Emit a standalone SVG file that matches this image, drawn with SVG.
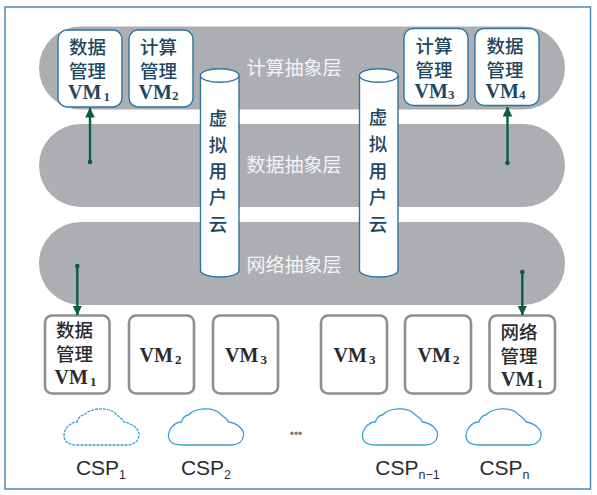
<svg xmlns="http://www.w3.org/2000/svg" width="597" height="495" viewBox="0 0 597 495">
<style>
.band{fill:#adaeb1}
.vm{fill:#fff;stroke:#2f749f;stroke-width:1.4}
.pm{fill:#fff;stroke:#8c8e91;stroke-width:2.6}
.zh{font-family:"Noto Sans CJK SC",sans-serif;font-size:18.500px;font-weight:500;text-anchor:middle}
.blue{fill:#1d4763}
.dark{fill:#2b2b2d}
.lay{font-family:"Noto Sans CJK SC",sans-serif;font-size:19px;fill:#f4f4f5;text-anchor:middle}
.v{font-family:"Liberation Serif",serif;font-weight:bold;font-size:20px;text-anchor:middle}
.s{font-size:13px}
.cyl{fill:#fff;stroke:#2f749f;stroke-width:1.4}
.cloud{fill:#fff;stroke:#3a9fd0;stroke-width:1.3}
.csp{font-family:"Liberation Sans",sans-serif;font-size:21px;fill:#2b2b2d;text-anchor:middle}
.sub{font-size:12.500px}
.arrow{stroke:#0a5c46;stroke-width:2.4;fill:none;marker-end:url(#ah)}
.dot{fill:#0a5c46}
</style>
<defs>
<marker id="ah" markerUnits="userSpaceOnUse" markerWidth="10" markerHeight="10" refX="9.500" refY="5" orient="auto"><path d="M0,0.200L10,5L0,9.800Z" fill="#0a5c46"/></marker>
<path id="c" d="M1,31C-3,22 6,13 13,13C14,9 17,6 20,6C26,-1 44,-3 52,5C55,8 59,10 60,13C68,14 76,20 75,27C74,33 69,36 62,36L14,36C8,36 3,35 1,31Z"/>
</defs>
<rect width="597" height="495" fill="#fff"/>
<rect x="5" y="7" width="585.500" height="482" fill="#fff" stroke="#3f86ad" stroke-width="1.400"/>
<g id="layers">
<rect class="band" x="39" y="26.500" width="526" height="83" rx="41.500"/>
<rect class="band" x="39" y="124" width="526" height="83" rx="41.500"/>
<rect class="band" x="39" y="222" width="526" height="83" rx="41.500"/>
<text class="lay" x="294" y="75">计算抽象层</text>
<text class="lay" x="294" y="172">数据抽象层</text>
<text class="lay" x="294" y="272">网络抽象层</text>
</g>
<g id="vm-top-1"><rect class="vm" x="58" y="30" width="64" height="77" rx="9"/><text class="zh blue" x="87.500" y="54">数据</text><text class="zh blue" x="87.500" y="78">管理</text><text class="v blue" x="89" y="99">VM<tspan class="s" dx="2" dy="2">1</tspan></text></g>
<g id="vm-top-2"><rect class="vm" x="129" y="30" width="64" height="77" rx="9"/><text class="zh blue" x="158.500" y="54">计算</text><text class="zh blue" x="158.500" y="78">管理</text><text class="v blue" x="158.500" y="99">VM<tspan class="s" dy="1">2</tspan></text></g>
<g id="vm-top-3"><rect class="vm" x="404" y="28.500" width="64" height="77" rx="9"/><text class="zh blue" x="434" y="53">计算</text><text class="zh blue" x="434" y="77">管理</text><text class="v blue" x="434.500" y="98">VM<tspan class="s" dy="1">3</tspan></text></g>
<g id="vm-top-4"><rect class="vm" x="475" y="28.500" width="64" height="77" rx="9"/><text class="zh blue" x="505" y="53">数据</text><text class="zh blue" x="505" y="77">管理</text><text class="v blue" x="505.500" y="98">VM<tspan class="s" dy="1">4</tspan></text></g>
<g id="cloud-a"><path class="cyl" d="M200.500,75.500V270.500C200.500,274 209,277 220,277S239,274 239,270.500V75.500"/><ellipse class="cyl" cx="219.700" cy="75.500" rx="19.300" ry="6.800"/>
<text class="zh blue" x="218" y="125">虚</text><text class="zh blue" x="218" y="152">拟</text><text class="zh blue" x="218" y="178">用</text><text class="zh blue" x="218" y="204">户</text><text class="zh blue" x="218" y="231">云</text></g>
<g id="cloud-b"><path class="cyl" d="M359.500,75.500V270.500C359.500,274 368,277 379,277S398,274 398,270.500V75.500"/><ellipse class="cyl" cx="378.700" cy="75.500" rx="19.300" ry="6.800"/>
<text class="zh blue" x="378" y="124">虚</text><text class="zh blue" x="378" y="151">拟</text><text class="zh blue" x="378" y="178">用</text><text class="zh blue" x="378" y="204">户</text><text class="zh blue" x="378" y="231">云</text></g>
<g id="pm-1"><rect class="pm" x="45" y="315.500" width="64.500" height="78" rx="7"/><text class="zh dark" x="74.500" y="337">数据</text><text class="zh dark" x="74.500" y="361">管理</text><text class="v dark" x="75.500" y="384">VM<tspan class="s" dx="2" dy="2">1</tspan></text></g>
<g id="pm-2"><rect class="pm" x="129" y="315.500" width="65" height="78" rx="7"/><text class="v dark" x="160.500" y="362">VM<tspan class="s" dx="2" dy="2">2</tspan></text></g>
<g id="pm-3"><rect class="pm" x="213" y="315.500" width="65" height="78" rx="7"/><text class="v dark" x="246" y="362">VM<tspan class="s" dx="2" dy="2">3</tspan></text></g>
<g id="pm-4"><rect class="pm" x="321" y="315.500" width="66" height="78" rx="7"/><text class="v dark" x="354.500" y="362">VM<tspan class="s" dx="2" dy="2">3</tspan></text></g>
<g id="pm-5"><rect class="pm" x="405" y="315.500" width="66" height="78" rx="7"/><text class="v dark" x="438.500" y="362">VM<tspan class="s" dx="2" dy="2">2</tspan></text></g>
<g id="pm-6"><rect class="pm" x="489.500" y="315.500" width="65.500" height="78" rx="7"/><text class="zh dark" x="519" y="339">网络</text><text class="zh dark" x="519" y="363">管理</text><text class="v dark" x="522" y="386">VM<tspan class="s" dx="2" dy="2">1</tspan></text></g>
<g id="connectors">
<line class="arrow" x1="90" y1="162" x2="90" y2="108"/><circle class="dot" cx="90" cy="162" r="2.300"/>
<line class="arrow" x1="507.500" y1="163" x2="507.500" y2="107"/><circle class="dot" cx="507.500" cy="163" r="2.300"/>
<line class="arrow" x1="77.300" y1="266" x2="77.300" y2="315"/><circle class="dot" cx="77.300" cy="266" r="2.300"/>
<line class="arrow" x1="522.300" y1="272" x2="522.300" y2="315"/><circle class="dot" cx="522.300" cy="272" r="2.300"/>
</g>
<g id="csp-1"><use href="#c" class="cloud" x="64" y="409" stroke-dasharray="3 1"/><text class="csp" x="101" y="475">CSP<tspan class="sub" dy="4">1</tspan></text></g>
<g id="csp-2"><use href="#c" class="cloud" x="168.500" y="409"/><text class="csp" x="206" y="475">CSP<tspan class="sub" dy="4">2</tspan></text></g>
<text x="296" y="438" font-family="Liberation Sans,sans-serif" font-size="12" fill="#77797c" text-anchor="middle">•••</text>
<g id="csp-3"><use href="#c" class="cloud" x="362.500" y="409"/><text class="csp" x="407.500" y="475">CSP<tspan class="sub" dy="4">n−1</tspan></text></g>
<g id="csp-4"><use href="#c" class="cloud" x="466" y="409"/><text class="csp" x="504.500" y="475">CSP<tspan class="sub" dy="4">n</tspan></text></g>
</svg>
